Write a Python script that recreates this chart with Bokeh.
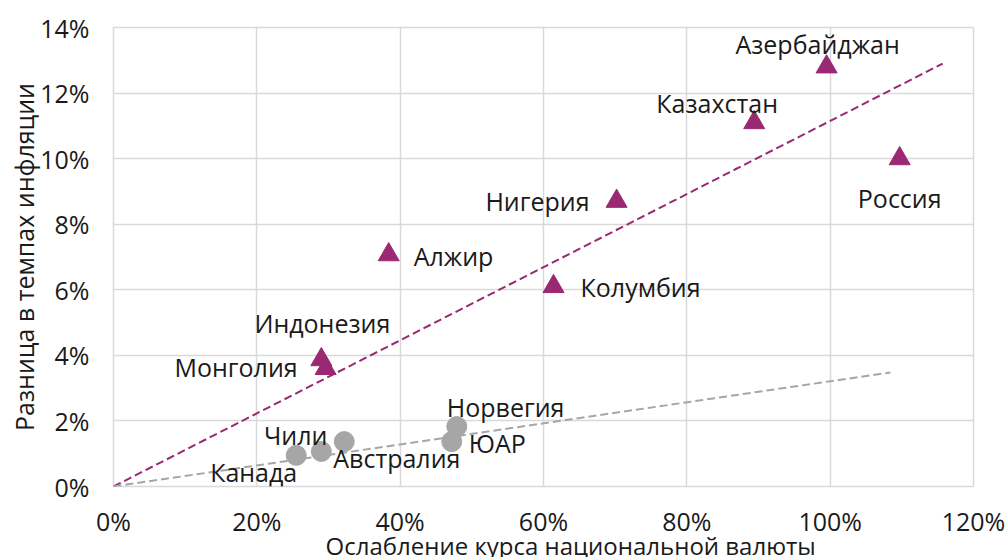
from bokeh.plotting import figure
from bokeh.models import ColumnDataSource, NumeralTickFormatter, FixedTicker, Range1d, Title
from bokeh.core.properties import value
from bokeh.embed import file_html
from bokeh.resources import INLINE

# ---- data (fractions) ----
em_names = ["Азербайджан", "Казахстан", "Россия", "Нигерия", "Алжир", "Колумбия", "Индонезия", "Монголия"]
em_x = [0.995, 0.894, 1.097, 0.702, 0.384, 0.614, 0.290, 0.296]
em_y = [0.128, 0.111, 0.100, 0.087, 0.0707, 0.061, 0.0387, 0.036]

dev_names = ["Канада", "Чили", "Австралия", "Норвегия", "ЮАР"]
dev_x = [0.255, 0.290, 0.322, 0.479, 0.472]
dev_y = [0.0095, 0.0107, 0.0137, 0.0183, 0.0137]

trend_em_x = [0.0, 1.157]
trend_em_y = [0.0, 0.129]
trend_dev_x = [0.0, 1.084]
trend_dev_y = [0.0, 0.0348]

x_ticks = [0.0, 0.2, 0.4, 0.6, 0.8, 1.0, 1.2]
y_ticks = [0.0, 0.02, 0.04, 0.06, 0.08, 0.10, 0.12, 0.14]

x_title = "Ослабление курса национальной валюты"
y_title = "Разница в темпах инфляции"

# ---- label placement (styles, pixels) ----
em_align = ["center", "center", "center", "right", "left", "left", "center", "right"]
em_dx = [-9, -37, 0, -27, 25, 27, 1, -28]
em_dy = [-23, -20, 39, 0, 1, 0, -37, -1]
dev_align = ["right", "right", "left", "left", "left"]
dev_dx = [1, 6, -11, -10, 17]
dev_dy = [17, -16, 16, -20, 1]

PURPLE = "#9a2873"
GREY = "#a6a6a6"
FONT = "Open Sans"
FS = "25px"

p = figure(width=1008, height=557, output_backend="svg", toolbar_location=None,
           x_range=Range1d(0, 1.2), y_range=Range1d(0, 0.14),
           min_border_left=113, min_border_right=35, min_border_top=27, min_border_bottom=71)

p.background_fill_color = "white"
p.border_fill_color = "white"
p.outline_line_color = "#d9d9d9"
p.outline_line_width = 1.5

for ax in (p.xaxis, p.yaxis):
    ax.axis_line_color = None
    ax.major_tick_line_color = None
    ax.minor_tick_line_color = None
    ax.major_label_text_font = FONT
    ax.major_label_text_font_size = FS
    ax.major_label_text_color = "#1a1a1a"
    ax.formatter = NumeralTickFormatter(format="0%")

p.xaxis.ticker = FixedTicker(ticks=x_ticks)
p.yaxis.ticker = FixedTicker(ticks=y_ticks)
p.xaxis.major_label_standoff = 11
p.yaxis.major_label_standoff = 18

p.yaxis.axis_label = y_title
p.yaxis.axis_label_text_font = FONT
p.yaxis.axis_label_text_font_size = FS
p.yaxis.axis_label_text_font_style = "normal"
p.yaxis.axis_label_text_color = "#1a1a1a"
p.yaxis.axis_label_standoff = -4

xt = Title(text=x_title, align="left", offset=212, text_font=FONT, text_font_size="24px",
           text_font_style="normal", text_color="#1a1a1a")
if "standoff" in Title.properties():
    xt.standoff = -42
p.add_layout(xt, "below")

p.xgrid.grid_line_color = "#d9d9d9"
p.ygrid.grid_line_color = "#d9d9d9"
p.xgrid.grid_line_width = 1.5
p.ygrid.grid_line_width = 1.5

# trend lines
p.line(trend_em_x, trend_em_y, line_color=PURPLE, line_width=2, line_dash="8 4")
p.line(trend_dev_x, trend_dev_y, line_color=GREY, line_width=2, line_dash="8 4")

em_src = ColumnDataSource(dict(x=em_x, y=em_y, name=em_names, align=em_align, dx=em_dx, dy=em_dy))
dev_src = ColumnDataSource(dict(x=dev_x, y=dev_y, name=dev_names, align=dev_align, dx=dev_dx, dy=dev_dy))

p.scatter("x", "y", source=em_src, marker="triangle", size=21, fill_color=PURPLE, line_color=PURPLE)
p.scatter("x", "y", source=dev_src, marker="circle", size=20, fill_color=GREY, line_color=GREY)

for src in (em_src, dev_src):
    p.text("x", "y", text="name", source=src, text_align="align", text_baseline="middle",
           x_offset="dx", y_offset="dy", text_font=value(FONT), text_font_size=value(FS),
           text_color="#1a1a1a")

open("out.html", "w").write(file_html(p, INLINE))
